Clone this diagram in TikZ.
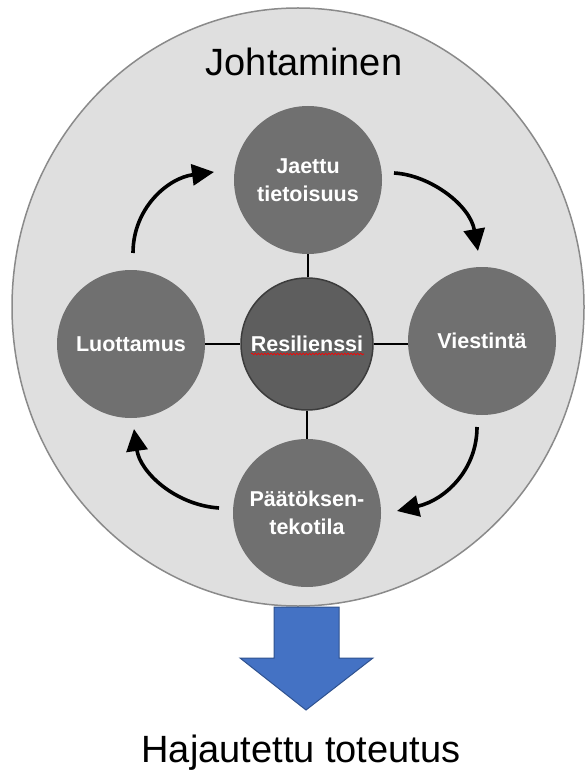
\documentclass[tikz,border=0pt]{standalone}
\usepackage{fontspec}
\setmainfont{Liberation Sans}
\usetikzlibrary{arrows.meta,decorations.pathmorphing,calc}

\definecolor{outerfill}{HTML}{DFDFDF}
\definecolor{outerline}{HTML}{8A8A8A}
\definecolor{ballfill}{HTML}{707070}
\definecolor{corefill}{HTML}{5E5E5E}
\definecolor{coreline}{HTML}{3C3C3C}
\definecolor{flowblue}{HTML}{4472C4}
\definecolor{flowline}{HTML}{2F528F}

\tikzset{
  ball/.style={circle, fill=ballfill, draw=none, minimum size=148pt, inner sep=0pt,
    text=white, align=center, font=\fontsize{21.5}{28}\selectfont\bfseries},
  core/.style={ball, fill=corefill, draw=coreline, line width=1.5pt, minimum size=132pt},
  link/.style={line width=2.6pt, black},
  cycle/.style={line width=3.6pt, black, -{Triangle[length=22pt,width=21pt]}},
  title/.style={font=\fontsize{38}{44}\selectfont, text=black, inner sep=0pt}
}

\begin{document}
\begin{tikzpicture}[x=1pt,y=-1pt]
  \useasboundingbox (0,0) rectangle (587,775);

  % outer area
  \draw[fill=outerfill, draw=outerline, line width=1.5pt] (298,307) ellipse [x radius=286, y radius=299];
  \node[title, anchor=base] (lead) at (304,76) {Johtaminen};

  % the five circles
  \node[ball] (share) at (308,180) {Jaettu\\tietoisuus};
  \node[core] (res) at (307,344) {Resilienssi};
  \node[ball] (trust) at (131,344) {Luottamus};
  \node[ball] (comm) at (482,341) {Viestintä};
  \node[ball] (dec) at (307,513) {Päätöksen-\\tekotila};

  % spell-check squiggle under the core label
  \draw[red, line width=0.6pt, decorate, decoration={snake, amplitude=0.9pt, segment length=3.2pt}]
    ([xshift=-56pt,yshift=-10pt]res.center) -- ([xshift=57pt,yshift=-10pt]res.center);

  % spokes
  \draw[link] (share.south) -- (share.south |- res.north);
  \draw[link] (trust.east) -- (res.west);
  \draw[link] (res.east) -- (res.east -| comm.west);
  \draw[link] (res.south) -- (dec.north);

  % circular flow arrows
  \coordinate (a1s) at (133,253); \coordinate (a1e) at (214,172);
  \coordinate (a2s) at (394,173); \coordinate (a2e) at (478,251);
  \coordinate (a3s) at (477,427); \coordinate (a3e) at (397,511);
  \coordinate (a4s) at (219,508); \coordinate (a4e) at (134,429);
  \draw[cycle] (a1s) .. controls (133,208) and (168,178) .. (a1e);
  \draw[cycle] (a2s) .. controls (430,175) and (470,205) .. (a2e);
  \draw[cycle] (a3s) .. controls (477,470) and (445,500) .. (a3e);
  \draw[cycle] (a4s) .. controls (175,505) and (140,472) .. (a4e);

  % outcome arrow
  \draw[fill=flowblue, draw=flowline, line width=1pt]
    (274,607) -- (339,607) -- (339,658) -- (373,658) -- (306,710) -- (240,658) -- (274,658) -- cycle;
  \node[title, anchor=base] (out) at (301,762) {Hajautettu toteutus};
\end{tikzpicture}
\end{document}
